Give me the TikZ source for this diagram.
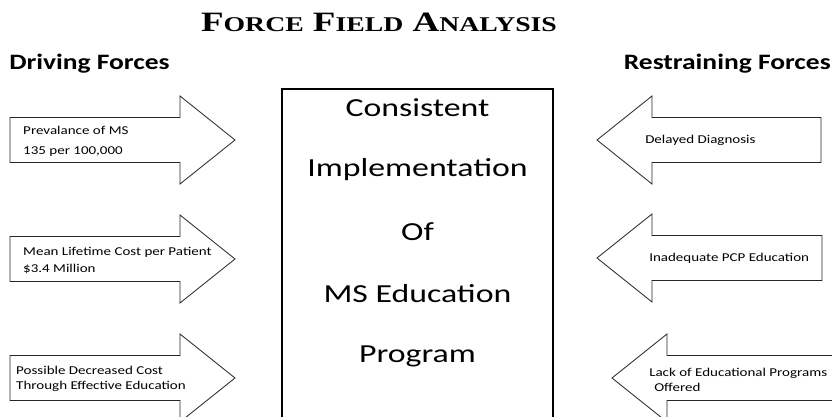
\documentclass[tikz,border=0pt]{standalone}
\usepackage{fontspec}
\setmainfont{Carlito}
\newfontfamily\titlefont{Liberation Serif}
\newcommand\smallcap[2]{{\fontsize{28}{30}\selectfont #1}{\fontsize{21}{24}\selectfont #2}}
\tikzset{
	force/.style={draw=black!85,fill=white,line width=0.8pt,line join=miter},
	lbl/.style={anchor=west,inner sep=0pt,align=left,xscale=1.25,font=\fontsize{12}{15}\selectfont},
	head/.style={inner sep=0pt,xscale=1.25,font=\fontsize{22}{24}\selectfont\bfseries},
	prog/.style={inner sep=0pt,xscale=1.3,font=\fontsize{26}{30}\selectfont}
}
\begin{document}
\begin{tikzpicture}[x=1pt,y=-1pt]
	\useasboundingbox (0,0) rectangle (832,417);
	\clip (0,0) rectangle (832,417);
	\node[anchor=base,inner sep=0pt,xscale=1.32,font=\titlefont\bfseries] (title) at (379,32) {\smallcap{F}{ORCE}\hspace{7pt}\smallcap{F}{IELD}\hspace{7pt}\smallcap{A}{NALYSIS}};
	\node[head,anchor=base west] (driving) at (9,70) {Driving Forces};
	\node[head,anchor=base east] (restraining) at (831,70) {Restraining Forces};
	% driving forces point right
	\foreach \y in {140,259,378}
	{
		\draw[force] (10,\y-22.5) -- (180,\y-22.5) -- (180,\y-44) -- (235,\y) -- (180,\y+44) -- (180,\y+22.5) -- (10,\y+22.5) -- cycle;
	}
	% restraining forces point left
	\foreach \t/\y/\r in {597/140/821,597/258/822,612/378/850}
	{
		\draw[force] (\r,\y-22.5) -- (\t+55,\y-22.5) -- (\t+55,\y-44) -- (\t,\y) -- (\t+55,\y+44) -- (\t+55,\y+22.5) -- (\r,\y+22.5) -- cycle;
	}
	\node[lbl] (prevalence) at (23,141) {Prevalance of MS\\[5pt]135 per 100,000};
	\node[lbl] (cost) at (23,260.5) {Mean Lifetime Cost per Patient\\[2pt]\$3.4 Million};
	\node[lbl] (decrease) at (16,378.5) {Possible Decreased Cost\\Through Effective Education};
	\node[lbl] (diagnosis) at (645,140) {Delayed Diagnosis};
	\node[lbl] (pcp) at (649,258) {Inadequate PCP Education};
	\node[lbl] (lack) at (649,379.5) {Lack of Educational Programs\\\hspace{4pt}Offered};
	\draw[line width=2.5pt] (282,89) rectangle (553,440);
	\node[prog] (consistent) at (417.5,108) {Consistent};
	\node[prog] (implementation) at (417.5,170) {Implementation};
	\node[prog] (of) at (417.5,232) {Of};
	\node[prog] (education) at (417.5,294) {MS Education};
	\node[prog] (program) at (417.5,356) {Program};
\end{tikzpicture}
\end{document}
